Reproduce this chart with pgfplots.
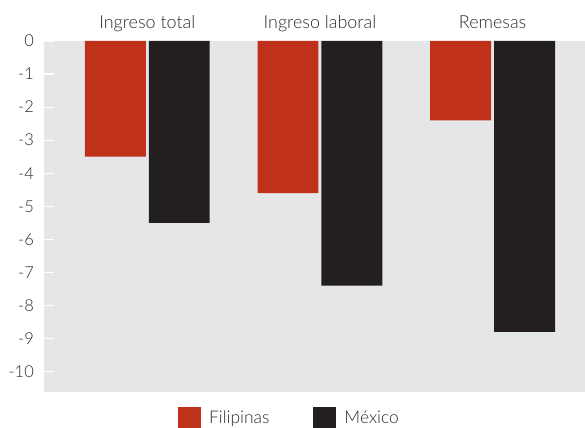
\documentclass[border=0pt]{standalone}
\usepackage{pgfplots}
\pgfplotsset{compat=1.18}
\usepackage{fontspec}
\setmainfont{Lato Light}[BoldFont=Lato]
\definecolor{rojo}{HTML}{C0311C}
\definecolor{negro}{HTML}{231F20}
\definecolor{fondo}{HTML}{E5E6E8}
\definecolor{texto}{HTML}{2B2B2B}
\begin{document}
\begin{tikzpicture}[x=1bp,y=1bp]
\useasboundingbox (0,0) rectangle (585,427);
\begin{axis}[
  at={(44bp,35bp)}, anchor=south west,
  scale only axis, width=541bp, height=351bp,
  xmin=-0.598, xmax=2.535, ymin=-10.62, ymax=0,
  axis background/.style={fill=fondo},
  axis line style={draw=none},
  ybar, bar width=0.3526, bar shift auto=false,
  xtick={0,1,2},
  xticklabels={Ingreso total, Ingreso laboral, Remesas},
  xticklabel pos=right,
  x tick style={draw=none},
  xticklabel style={anchor=base, inner sep=0pt, yshift=12bp,
    font=\fontsize{18}{21}\selectfont},
  ytick={0,-1,...,-10},
  ytick pos=left,
  y tick style={draw=white, line width=1.2bp},
  major tick length=10bp,
  tick align=inside,
  yticklabel style={anchor=east, inner sep=0pt, xshift=-10bp,
    font=\fontsize{16.5}{19}\selectfont},
  /pgf/number format/assume math mode=true,
  tick label style={text=texto},
  legend columns=2,
  legend style={draw=none, fill=none, at={(0.4538,-0.0745)}, anchor=center,
    font=\fontsize{17.5}{20}\selectfont, text=texto,
    nodes={inner ysep=0pt},
    /tikz/every odd column/.append style={column sep=6bp},
    /tikz/every even column/.append style={column sep=42bp}},
  legend image code/.code={\fill[#1] (0bp,-11.5bp) rectangle (23bp,11.5bp);},
]
\addplot[fill=rojo, draw=none, bar shift=-0.185] coordinates {(0,-3.5) (1,-4.6) (2,-2.4)};
\addplot[fill=negro, draw=none, bar shift=0.185] coordinates {(0,-5.5) (1,-7.4) (2,-8.8)};
\legend{Filipinas, México}
\end{axis}
\end{tikzpicture}
\end{document}
